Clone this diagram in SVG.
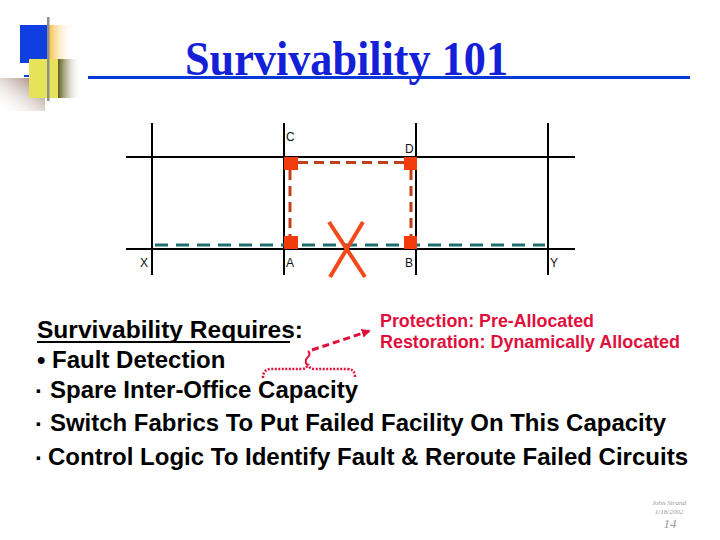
<svg xmlns="http://www.w3.org/2000/svg" width="720" height="540" viewBox="0 0 720 540">
<style>
.grid{stroke:#000;stroke-width:2;fill:none}
.lbl{font-family:"Liberation Sans",Arial,sans-serif;font-size:12px;fill:#111}
.sq{fill:#f23c0c}
.prot{stroke:#c0401c;stroke-width:3;fill:none;stroke-dasharray:10 6}
.body{font-family:"Liberation Sans",Arial,sans-serif;font-weight:bold;font-size:24px;fill:#000}
.red{font-family:"Liberation Sans",Arial,sans-serif;font-weight:bold;font-size:19px;fill:#e0103c}
.foot{font-family:"Liberation Serif","Times New Roman",serif;font-style:italic;fill:#9a9a9a}
</style>
<defs>
<linearGradient id="gOr" x1="0" y1="0" x2="1" y2="0"><stop offset="0" stop-color="#f7b52a"/><stop offset="1" stop-color="#fff" stop-opacity="0"/></linearGradient>
<linearGradient id="gOl" x1="0" y1="0" x2="1" y2="0"><stop offset="0" stop-color="#5c5c1c"/><stop offset="1" stop-color="#fff" stop-opacity="0"/></linearGradient>
<linearGradient id="gBr" x1="1" y1="0" x2="0" y2="1"><stop offset="0" stop-color="#8a6656"/><stop offset="1" stop-color="#fff" stop-opacity="0"/></linearGradient>
<marker id="ah" viewBox="0 0 10 10" refX="8" refY="5" markerWidth="3" markerHeight="3" orient="auto"><path d="M0,0 L10,5 L0,10 z" fill="#e0103c"/></marker>
</defs>
<rect width="720" height="540" fill="#fff"/>
<g id="logo">
<rect x="0" y="78" width="45" height="33" fill="url(#gBr)"/>
<rect x="20" y="25" width="27" height="38" fill="#0f3fe0"/>
<rect x="47" y="25" width="26" height="38" fill="url(#gOr)"/>
<rect x="24" y="75" width="6" height="2" fill="#0f3fe0"/>
<rect x="29" y="59" width="29" height="39" fill="#e6e25a"/>
<rect x="58" y="59" width="23" height="39" fill="url(#gOl)"/>
<rect x="47" y="17" width="2.5" height="84" fill="#8e8e8e"/>
</g>
<g id="title">
<line x1="88" y1="77.5" x2="690" y2="77.5" stroke="#0a38d8" stroke-width="3"/>
<text x="185" y="75" font-family="'Liberation Serif','Times New Roman',serif" font-weight="bold" font-size="48" fill="#1420d8" textLength="323" lengthAdjust="spacingAndGlyphs">Survivability 101</text>
</g>
<g id="connectors">
<line class="grid" x1="152" y1="123" x2="152" y2="275"/>
<line class="grid" x1="284" y1="123" x2="284" y2="275"/>
<line class="grid" x1="416" y1="123" x2="416" y2="275"/>
<line class="grid" x1="548" y1="123" x2="548" y2="275"/>
<line class="grid" x1="126" y1="157" x2="575" y2="157"/>
<line class="grid" x1="126" y1="249" x2="575" y2="249"/>
<line x1="155" y1="245" x2="545" y2="245" stroke="#1f6f70" stroke-width="3" stroke-dasharray="13 8"/>
<path class="prot" d="M298,162.5 H404"/>
<path class="prot" d="M290,170 V236"/>
<path class="prot" d="M411,170 V236"/>
</g>
<g id="node-C"><rect class="sq" x="284" y="157" width="14" height="13"/><text class="lbl" x="286" y="141">C</text></g>
<g id="node-D"><rect class="sq" x="404" y="157" width="13" height="13"/><text class="lbl" x="405" y="153">D</text></g>
<g id="node-A"><rect class="sq" x="284" y="236" width="14" height="13"/><text class="lbl" x="286" y="267">A</text></g>
<g id="node-B"><rect class="sq" x="404" y="236" width="13" height="13"/><text class="lbl" x="405" y="267">B</text></g>
<g id="node-X"><text class="lbl" x="140" y="267">X</text></g>
<g id="node-Y"><text class="lbl" x="550" y="267">Y</text></g>
<g id="fault" stroke="#f2481a" stroke-width="4">
<line x1="329" y1="222" x2="365" y2="277"/>
<line x1="363" y1="222" x2="330" y2="277"/>
</g>
<g id="requirements">
<text class="body" x="37" y="338" textLength="266" lengthAdjust="spacingAndGlyphs">Survivability Requires:</text>
<line x1="37" y1="342" x2="290" y2="342" stroke="#000" stroke-width="2"/>
<text class="body" x="37" y="368">• Fault Detection</text>
<text class="body" x="35" y="399" font-size="15">·</text>
<text class="body" x="50" y="398">Spare Inter-Office Capacity</text>
<text class="body" x="35" y="432" font-size="15">·</text>
<text class="body" x="50" y="431" textLength="616" lengthAdjust="spacingAndGlyphs">Switch Fabrics To Put Failed Facility On This Capacity</text>
<text class="body" x="35" y="466" font-size="15">·</text>
<text class="body" x="48" y="465" textLength="640" lengthAdjust="spacingAndGlyphs">Control Logic To Identify Fault &amp; Reroute Failed Circuits</text>
</g>
<g id="annotation">
<path d="M263,378 Q263,369 271,369 L301,369 Q307,369 308,364 Q309,369 315,369 L347,369 Q355,369 355,377" fill="none" stroke="#e0103c" stroke-width="2.5" stroke-dasharray="2 1.5"/>
<path d="M307,365 Q304,360 308,357 Q311,354 308,351" fill="none" stroke="#e0103c" stroke-width="2"/>
<line x1="312" y1="350" x2="369" y2="331" stroke="#e0103c" stroke-width="3" stroke-dasharray="7 4" marker-end="url(#ah)"/>
<text class="red" x="380" y="327" textLength="214" lengthAdjust="spacingAndGlyphs">Protection: Pre-Allocated</text>
<text class="red" x="380" y="348" textLength="300" lengthAdjust="spacingAndGlyphs">Restoration: Dynamically Allocated</text>
</g>
<g id="footer" text-anchor="middle">
<text class="foot" x="669" y="505" font-size="7">John Strand</text>
<text class="foot" x="669" y="514" font-size="7">1/18/2002</text>
<text class="foot" x="670" y="528" font-size="13">14</text>
</g>
</svg>
